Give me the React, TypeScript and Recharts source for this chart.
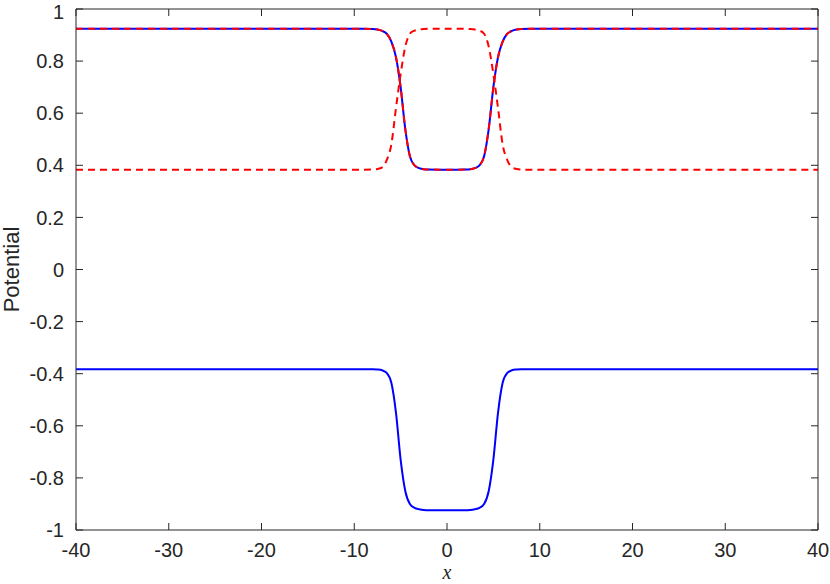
import React from 'react';
import { LineChart, Line, XAxis, YAxis } from 'recharts';

const xValues = [-40, -9, -8, -7.5, -7, -6.5, -6, -5.5, -5, -4.5, -4, -3.5, -3, -2.5, -2, 0, 2, 2.5, 3, 3.5, 4, 4.5, 5, 5.5, 6, 6.5, 7, 7.5, 8, 9, 40];

const upperBlue = [0.924, 0.924, 0.923, 0.921, 0.916, 0.905, 0.875, 0.815, 0.70, 0.54, 0.435, 0.400, 0.389, 0.385, 0.384, 0.383, 0.384, 0.385, 0.389, 0.400, 0.435, 0.54, 0.70, 0.815, 0.875, 0.905, 0.916, 0.921, 0.923, 0.924, 0.924];

const lowerBlue = [-0.383, -0.383, -0.383, -0.384, -0.387, -0.397, -0.435, -0.55, -0.73, -0.85, -0.9, -0.915, -0.92, -0.923, -0.924, -0.924, -0.924, -0.923, -0.92, -0.915, -0.9, -0.85, -0.73, -0.55, -0.435, -0.397, -0.387, -0.384, -0.383, -0.383, -0.383];

const redDashedA = [0.924, 0.924, 0.923, 0.921, 0.916, 0.905, 0.875, 0.815, 0.70, 0.54, 0.435, 0.400, 0.389, 0.385, 0.384, 0.383, 0.384, 0.385, 0.389, 0.400, 0.435, 0.54, 0.70, 0.815, 0.875, 0.905, 0.916, 0.921, 0.923, 0.924, 0.924];

const redDashedB = [0.383, 0.383, 0.384, 0.386, 0.392, 0.42, 0.48, 0.62, 0.75, 0.855, 0.905, 0.917, 0.921, 0.923, 0.924, 0.924, 0.924, 0.923, 0.921, 0.917, 0.905, 0.855, 0.75, 0.62, 0.48, 0.42, 0.392, 0.386, 0.384, 0.383, 0.383];

const xTicks = [-40, -30, -20, -10, 0, 10, 20, 30, 40];
const yTicks = [-1, -0.8, -0.6, -0.4, -0.2, 0, 0.2, 0.4, 0.6, 0.8, 1];

const data = xValues.map((x, i) => ({
  x,
  b1: upperBlue[i],
  b2: lowerBlue[i],
  r1: redDashedA[i],
  r2: redDashedB[i],
}));

const axisColor = '#262626';
const fontFamily = '"Liberation Sans", Arial, Helvetica, sans-serif';
const tickStyle = { fill: axisColor, fontSize: 20, fontFamily };

export default function App() {
  return (
    <div style={{ position: 'absolute', left: 0, top: 0, width: 830, height: 584, background: '#fff' }}>
      <LineChart width={830} height={584} data={data} margin={{ top: 8, right: 11, bottom: 0, left: 0 }}>
        <XAxis
          dataKey="x"
          type="number"
          domain={[-40, 40]}
          ticks={xTicks}
          allowDataOverflow
          height={54}
          tickSize={-7}
          tickMargin={20}
          stroke={axisColor}
          tick={tickStyle}
          tickLine={{ stroke: axisColor }}
          axisLine={{ stroke: axisColor }}
          label={{ value: 'x', position: 'insideBottom', offset: 5, style: { fill: axisColor, fontSize: 20, fontStyle: 'italic', fontFamily: '"Liberation Serif", "Times New Roman", serif' } }}
        />
        <XAxis
          xAxisId="top"
          dataKey="x"
          type="number"
          orientation="top"
          domain={[-40, 40]}
          ticks={xTicks}
          allowDataOverflow
          height={1}
          tickSize={-7}
          tickMargin={0}
          stroke={axisColor}
          tickFormatter={() => ''}
          tickLine={{ stroke: axisColor }}
          axisLine={{ stroke: axisColor }}
        />
        <YAxis
          type="number"
          domain={[-1, 1]}
          ticks={yTicks}
          allowDataOverflow
          width={76}
          tickSize={-7}
          tickMargin={19}
          stroke={axisColor}
          tick={tickStyle}
          tickLine={{ stroke: axisColor }}
          axisLine={{ stroke: axisColor }}
          tickFormatter={(v: number) => String(Math.round(v * 10) / 10)}
          label={{ value: 'Potential', angle: -90, position: 'insideLeft', offset: 11, style: { textAnchor: 'middle', fill: axisColor, fontSize: 22, fontFamily } }}
        />
        <YAxis
          yAxisId="right"
          type="number"
          orientation="right"
          domain={[-1, 1]}
          ticks={yTicks}
          allowDataOverflow
          width={1}
          tickSize={-7}
          tickMargin={0}
          stroke={axisColor}
          tickFormatter={() => ''}
          tickLine={{ stroke: axisColor }}
          axisLine={{ stroke: axisColor }}
        />
        <Line dataKey="b1" type="monotone" stroke="#0000ff" strokeWidth={2} dot={false} isAnimationActive={false} />
        <Line dataKey="b2" type="monotone" stroke="#0000ff" strokeWidth={2} dot={false} isAnimationActive={false} />
        <Line dataKey="r1" type="monotone" stroke="#ff0000" strokeWidth={2} strokeDasharray="7 5" dot={false} isAnimationActive={false} />
        <Line dataKey="r2" type="monotone" stroke="#ff0000" strokeWidth={2} strokeDasharray="7 5" dot={false} isAnimationActive={false} />
      </LineChart>
    </div>
  );
}
